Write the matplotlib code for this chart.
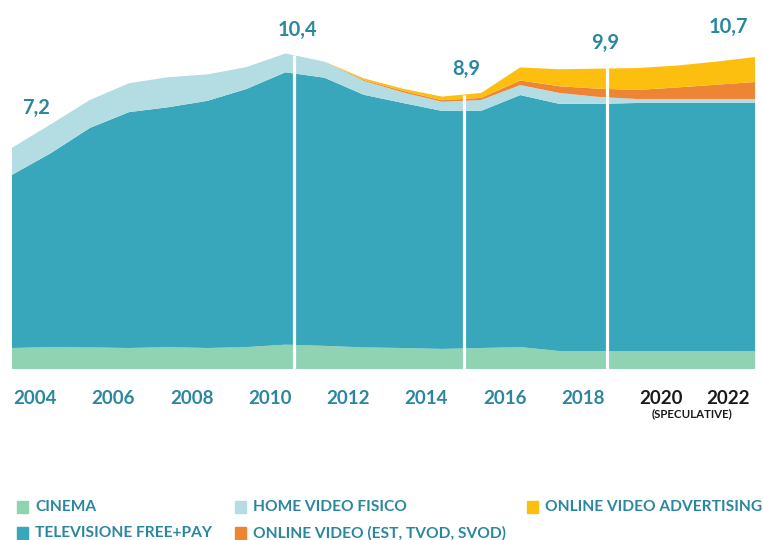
import numpy as np
import matplotlib
matplotlib.use("Agg")
import matplotlib.pyplot as plt
from matplotlib.patches import Rectangle

plt.rcParams["font.family"] = ["Lato", "DejaVu Sans"]

# ==========================
# Data (miliardi di euro)
# ==========================

years = list(range(2003, 2023))

cinema = [0.69, 0.72, 0.71, 0.69, 0.72, 0.69, 0.72, 0.80, 0.76, 0.71,
          0.69, 0.66, 0.69, 0.72, 0.59, 0.59, 0.59, 0.59, 0.59, 0.59]
televisione = [5.69, 6.38, 7.22, 7.76, 7.89, 8.13, 8.49, 8.96, 8.82, 8.31,
               8.06, 7.83, 7.80, 8.29, 8.13, 8.13, 8.16, 8.16, 8.16, 8.16]
home_video = [0.89, 0.95, 0.92, 0.95, 0.99, 0.87, 0.72, 0.62, 0.53, 0.46,
              0.35, 0.30, 0.36, 0.33, 0.36, 0.23, 0.13, 0.13, 0.13, 0.13]
online_video = [0, 0, 0, 0, 0, 0, 0, 0, 0, 0.03,
                0.05, 0.05, 0.07, 0.15, 0.22, 0.27, 0.30, 0.38, 0.47, 0.56]
online_adv = [0, 0, 0, 0, 0, 0, 0, 0, 0, 0.05,
              0.07, 0.12, 0.16, 0.43, 0.56, 0.66, 0.72, 0.72, 0.76, 0.82]

tick_years = [2004, 2006, 2008, 2010, 2012, 2014, 2016, 2018, 2020, 2022]

marker_years = [2010.22, 2014.55, 2018.22]
marker_labels = ["10,4", "8,9", "9,9"]

legend_labels = ["CINEMA", "TELEVISIONE FREE+PAY", "HOME VIDEO FISICO",
                 "ONLINE VIDEO (EST, TVOD, SVOD)", "ONLINE VIDEO ADVERTISING"]

colors = ["#8fd3b3", "#38a7bc", "#b3dde3", "#ee8535", "#fdbf0f"]
text_color = "#2b87a0"

# ==========================
# Figure
# ==========================

fig = plt.figure(figsize=(7.63, 5.40), dpi=100)
ax = fig.add_axes([0.0153, 0.3167, 0.9742, 0.6474])

series = [cinema, televisione, home_video, online_video, online_adv]
ax.stackplot(years, *series, colors=colors, linewidth=0)

ax.set_xlim(2003, 2022)
ax.set_ylim(0, 11.5)
for s in ax.spines.values():
    s.set_visible(False)
ax.set_yticks([])

# white separator lines up to the top of the stack
total = np.sum(np.array(series), axis=0)
for xm in marker_years:
    top = np.interp(xm, years, total)
    ax.plot([xm, xm], [0, top], color="white", lw=2.3, solid_capstyle="butt")

# total labels
ax.text(2003.62, 8.59, "7,2", color=text_color, fontsize=14.5,
        fontweight="bold", ha="center", va="center")
label_pos = [(2010.30, 11.15), (2014.62, 9.87), (2018.17, 10.72)]
for (lx, ly), lab in zip(label_pos, marker_labels):
    ax.text(lx, ly, lab, color=text_color, fontsize=14.5,
            fontweight="bold", ha="center", va="center")
ax.text(2021.32, 11.25, "10,7", color=text_color, fontsize=14.5,
        fontweight="bold", ha="center", va="center")

# x tick labels
tick_pos = [y - 0.4 for y in tick_years]
tick_pos[-1] = 2021.3
ax.set_xticks(tick_pos)
ax.set_xticklabels([str(y) for y in tick_years], fontsize=13.5,
                   fontweight="bold", color=text_color)
ax.tick_params(axis="x", length=0, pad=15)
for lab, y in zip(ax.get_xticklabels(), tick_years):
    if y >= 2020:
        lab.set_color("#1a1a1a")
ax.text(2020.4, -0.127, "(SPECULATIVE)", transform=ax.get_xaxis_transform(),
        fontsize=8.3, fontweight="bold", color="#1a1a1a",
        ha="center", va="center")

# legend
leg_pos = [(17, 507), (17, 533), (235, 507), (235, 533), (527, 507)]
W, H = 763, 540
for (px, py), lab, c in zip(leg_pos, legend_labels, colors):
    fig.patches.append(Rectangle((px / W, (H - py - 6) / H), 11 / W, 12 / H,
                                 transform=fig.transFigure, color=c))
    fig.text((px + 18) / W, (H - py) / H, lab, fontsize=11.2,
             fontweight="bold", color=text_color, va="center", ha="left")

fig.savefig("out.png", dpi=100)
